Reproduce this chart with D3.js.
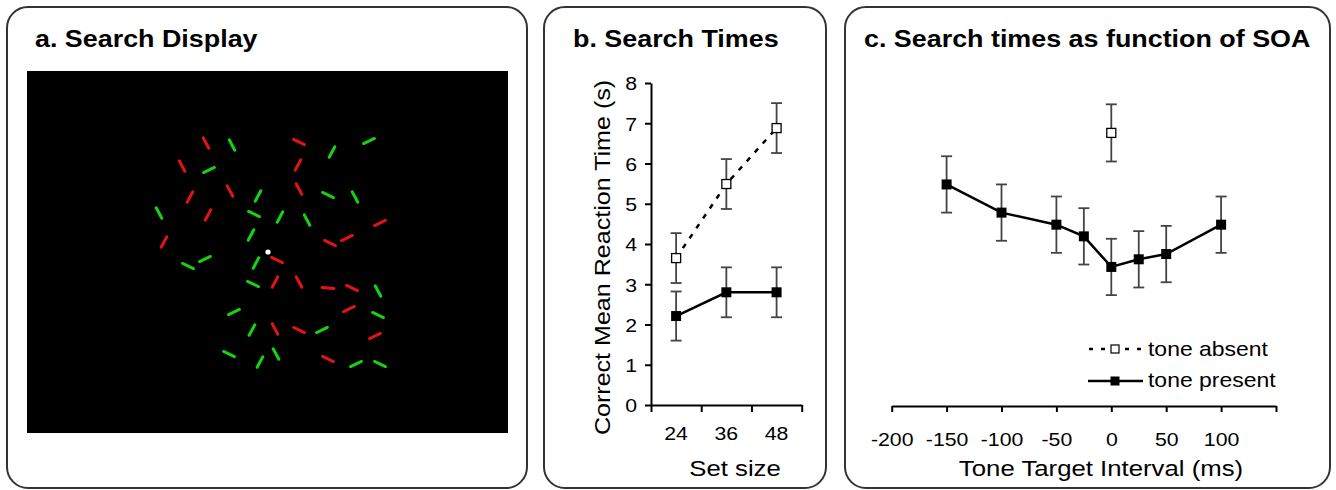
<!DOCTYPE html>
<html>
<head>
<meta charset="utf-8">
<script src="https://cdn.jsdelivr.net/npm/d3@7"></script>
<style>
  html, body { margin: 0; padding: 0; background: #fff; }
  svg text { font-family: "Liberation Sans", Arial, sans-serif; fill: #000; }
</style>
</head>
<body>
<div id="chart"></div>
<script>
// ---- data ----
// search display items (position inside the display, orientation in degrees)
const itemX = [179,205,272,305,342,155,182,271,163,203,231,272,301,328,132,181,227,253,280,353,224,303,320,137,161,178,229,250,226,248,272,301,325,351,207,322,351,225,248,272,295,348,202,249,233,301,329,353];
const itemY = [72,74,71,81,70,95,99,94,126,120,125,118,124,126,142,144,143,146,149,152,164,172,167,171,195,188,192,189,213,211,211,217,217,220,241,238,244,259,258,259,259,265,283,283,291,288,293,293];
const itemAngle = [62,62,25,-62,-25,62,-25,-62,-62,62,-62,62,25,62,62,-62,25,-62,62,-25,-62,25,-25,-62,25,-25,-62,25,25,-62,62,5,25,62,-25,-25,25,-62,62,25,-25,-25,25,62,-62,25,-25,25];
const itemColor = ["r","g","r","g","g","r","g","r","r","r","g","r","g","g","g","r","g","g","g","r","g","r","r","r","g","g","g","r","g","r","r","r","r","g","g","r","g","g","r","r","g","r","g","g","g","r","g","g"];
const fixation = [241, 181];

// b. search times by set size
const setSizes = [24, 36, 48];
const absentRT = [3.65, 5.49, 6.88];
const absentErr = [0.62, 0.62, 0.62];
const presentRT = [2.21, 2.80, 2.80];
const presentErr = [0.61, 0.62, 0.62];
const rtTicks = [0, 1, 2, 3, 4, 5, 6, 7, 8];

// c. search times by SOA
const soa = [-150, -100, -50, -25, 0, 25, 50, 100];
const soaRT = [5.48, 4.78, 4.48, 4.19, 3.43, 3.62, 3.75, 4.48];
const soaErr = [0.70, 0.70, 0.70, 0.70, 0.70, 0.70, 0.70, 0.70];
const absentSoa = [0];
const absentSoaRT = [6.76];
const absentSoaErr = [0.71];
const soaTicks = [-200, -150, -100, -50, 0, 50, 100, 150];

const W = 1336, H = 490;
const SX = 1.12; // horizontal glyph stretch of the original figure
const font = "Liberation Sans, Arial, sans-serif";

const svg = d3.select("#chart").append("svg")
  .attr("width", W).attr("height", H);

function label(g, txt, x, y, size, opts = {}) {
  return g.append("text")
    .attr("transform", `translate(${x},${y}) scale(${SX},1)`)
    .style("font-size", size + "px")
    .style("font-weight", opts.bold ? "bold" : "normal")
    .style("text-anchor", opts.anchor || "start")
    .text(txt);
}

// panel frames
const panels = [
  {x: 7, w: 520, title: "a. Search Display", tx: 35},
  {x: 544, w: 282, title: "b. Search Times", tx: 573},
  {x: 845, w: 485, title: "c. Search times as function of SOA", tx: 864}
];
panels.forEach(p => {
  svg.append("rect")
    .attr("x", p.x).attr("y", 7)
    .attr("width", p.w).attr("height", 481)
    .attr("rx", 21)
    .attr("fill", "none")
    .attr("stroke", "#333")
    .attr("stroke-width", 2);
  label(svg, p.title, p.tx, 47, 24, {bold: true});
});

// ---- a. search display ----
const dispX = d3.scaleLinear().domain([0, 481]).range([27, 508]);
const dispY = d3.scaleLinear().domain([0, 362]).range([71, 433]);
const colorOf = {r: "#e01414", g: "#14d214"};
const segLen = 12;

const disp = svg.append("g").attr("class", "display");
disp.append("rect")
  .attr("x", dispX(0)).attr("y", dispY(0))
  .attr("width", dispX(481) - dispX(0))
  .attr("height", dispY(362) - dispY(0))
  .attr("fill", "#000");

disp.selectAll("line.item")
  .data(d3.range(itemX.length))
  .join("line")
  .attr("class", "item")
  .attr("x1", i => dispX(itemX[i]) - Math.cos(itemAngle[i] * Math.PI / 180) * segLen / 2)
  .attr("y1", i => dispY(itemY[i]) - Math.sin(itemAngle[i] * Math.PI / 180) * segLen / 2)
  .attr("x2", i => dispX(itemX[i]) + Math.cos(itemAngle[i] * Math.PI / 180) * segLen / 2)
  .attr("y2", i => dispY(itemY[i]) + Math.sin(itemAngle[i] * Math.PI / 180) * segLen / 2)
  .attr("stroke", i => colorOf[itemColor[i]])
  .attr("stroke-width", 3)
  .attr("stroke-linecap", "round");

disp.append("circle")
  .attr("cx", dispX(fixation[0])).attr("cy", dispY(fixation[1]))
  .attr("r", 2.6).attr("fill", "#fff");

// ---- shared helpers ----
const y = d3.scaleLinear().domain([0, 8]).range([405, 83]);

function errorBars(g, xs, ms, es, xFn) {
  const eb = g.append("g").attr("class", "errbars");
  xs.forEach((d, i) => {
    const cx = xFn(d);
    const lo = y(ms[i] - es[i]), hi = y(ms[i] + es[i]);
    eb.append("line").attr("x1", cx).attr("x2", cx).attr("y1", lo).attr("y2", hi);
    eb.append("line").attr("x1", cx - 5.5).attr("x2", cx + 5.5).attr("y1", lo).attr("y2", lo);
    eb.append("line").attr("x1", cx - 5.5).attr("x2", cx + 5.5).attr("y1", hi).attr("y2", hi);
  });
  eb.selectAll("line").attr("stroke", "#444").attr("stroke-width", 1.8);
}

function squares(g, xs, ms, xFn, open) {
  const s = open ? 9 : 10;
  g.selectAll(null)
    .data(xs.map((d, i) => [xFn(d), y(ms[i])]))
    .join("rect")
    .attr("x", d => d[0] - s / 2).attr("y", d => d[1] - s / 2)
    .attr("width", s).attr("height", s)
    .attr("fill", open ? "#fff" : "#000")
    .attr("stroke", "#000")
    .attr("stroke-width", open ? 1.3 : 0);
}

function styleAxis(g, size) {
  g.selectAll("path, line").attr("stroke", "#000").attr("stroke-width", 2);
  g.selectAll("text")
    .attr("transform", `scale(${SX},1)`)
    .style("font-family", font)
    .style("font-size", size + "px")
    .attr("fill", "#000");
}

// ---- b. search times ----
const pb = svg.append("g").attr("class", "panel-b");
const xb = d3.scaleBand().domain(setSizes).range([651, 801.7]);
const xbTicks = d3.scaleLinear().domain([0, setSizes.length]).range(xb.range());
const xbPos = d => xb(d) + xb.bandwidth() / 2;

const yAxisB = pb.append("g")
  .attr("transform", `translate(651,0)`)
  .call(d3.axisLeft(y).tickValues(rtTicks).tickSize(6).tickSizeOuter(0).tickPadding(6.5));
styleAxis(yAxisB, 19);
yAxisB.selectAll("text").attr("dy", "0.36em");

const xTickB = pb.append("g")
  .attr("transform", `translate(0,${y(0)})`)
  .call(d3.axisBottom(xbTicks).ticks(setSizes.length).tickFormat("").tickSize(7).tickSizeOuter(0));
styleAxis(xTickB, 19);

const xLabB = pb.append("g")
  .attr("transform", `translate(0,${y(0)})`)
  .call(d3.axisBottom(xb).tickSize(0).tickPadding(21.5));
xLabB.select(".domain").remove();
styleAxis(xLabB, 19);

pb.append("text")
  .attr("transform", `translate(610,${(83 + 428) / 2 + 2}) rotate(-90) scale(1.14,1)`)
  .style("font-size", "22px")
  .style("text-anchor", "middle")
  .text("Correct Mean Reaction Time (s)");
label(pb, "Set size", 735, 476, 23, {anchor: "middle"});

const line = (xFn) => d3.line().x(d => xFn(d[0])).y(d => y(d[1]));

pb.append("path")
  .datum(setSizes.map((d, i) => [d, absentRT[i]]))
  .attr("d", line(xbPos))
  .attr("fill", "none").attr("stroke", "#000")
  .attr("stroke-width", 2.5).attr("stroke-dasharray", "5,7");
pb.append("path")
  .datum(setSizes.map((d, i) => [d, presentRT[i]]))
  .attr("d", line(xbPos))
  .attr("fill", "none").attr("stroke", "#000").attr("stroke-width", 2.5);

errorBars(pb, setSizes, absentRT, absentErr, xbPos);
errorBars(pb, setSizes, presentRT, presentErr, xbPos);
squares(pb, setSizes, absentRT, xbPos, true);
squares(pb, setSizes, presentRT, xbPos, false);

// ---- c. search times as function of SOA ----
const pc = svg.append("g").attr("class", "panel-c");
const xc = d3.scaleLinear().domain([-200, 150]).range([891.7, 1276]);

const xAxisC = pc.append("g")
  .attr("transform", `translate(0,${y(0) + 1})`)
  .call(d3.axisBottom(xc).tickValues(soaTicks)
    .tickFormat(d => d === 150 ? "" : d)
    .tickSize(6).tickSizeOuter(0).tickPadding(20.5));
styleAxis(xAxisC, 19);

label(pc, "Tone Target Interval (ms)", 1101, 476, 23, {anchor: "middle"});

pc.append("path")
  .datum(soa.map((d, i) => [d, soaRT[i]]))
  .attr("d", line(xc))
  .attr("fill", "none").attr("stroke", "#000").attr("stroke-width", 2.5);

errorBars(pc, absentSoa, absentSoaRT, absentSoaErr, xc);
errorBars(pc, soa, soaRT, soaErr, xc);
squares(pc, absentSoa, absentSoaRT, xc, true);
squares(pc, soa, soaRT, xc, false);

// legend
const leg = pc.append("g").attr("class", "legend");
const legendRows = [
  {name: "tone absent", open: true, y: 349, base: 356},
  {name: "tone present", open: false, y: 381, base: 387}
];
legendRows.forEach(r => {
  leg.append("line")
    .attr("x1", 1088).attr("x2", 1143).attr("y1", r.y).attr("y2", r.y)
    .attr("stroke", "#000").attr("stroke-width", 2.5)
    .attr("stroke-dasharray", r.open ? "4,8" : null)
    .attr("stroke-dashoffset", r.open ? -1 : null);
  const s = r.open ? 8 : 9;
  leg.append("rect")
    .attr("x", 1115 - s / 2).attr("y", r.y - s / 2)
    .attr("width", s).attr("height", s)
    .attr("fill", r.open ? "#fff" : "#000")
    .attr("stroke", "#000").attr("stroke-width", r.open ? 1.2 : 0);
  label(leg, r.name, 1148, r.base, 20.5);
});
</script>
</body>
</html>
